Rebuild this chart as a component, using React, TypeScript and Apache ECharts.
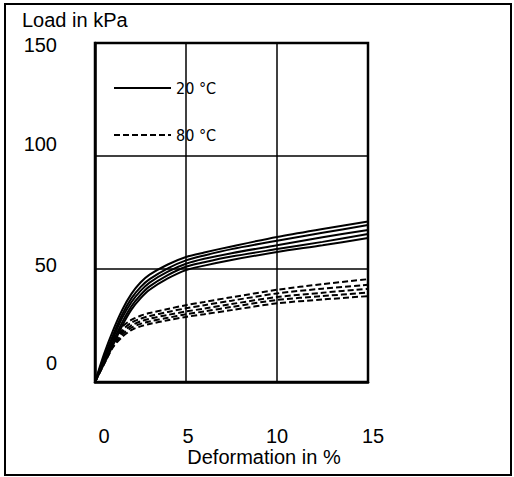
import React, { useEffect, useRef } from "react";
import * as echarts from "echarts";

const xTicks = [0, 5, 10, 15];
const yTicks = [0, 50, 100, 150];
const legendNames = ["20 °C", "80 °C"];
const xTitle = "Deformation in %";
const yTitle = "Load in kPa";

// deformation values (%) at which the curves were read
const deform = [0, 0.5, 1, 1.5, 2, 2.5, 3, 4, 5, 6, 7.5, 10, 12.5, 15];

// 20 °C curves (solid), load in kPa
const solid1 = [0, 12.5, 23, 32, 39, 44, 47.5, 52, 55.3, 57.3, 60, 64.2, 67.7, 71];
const solid2 = [0, 11, 21, 30, 37, 42, 45.5, 50.3, 53.8, 56, 58.8, 62.5, 66, 69.5];
const solid3 = [0, 10, 19.5, 28.5, 35.3, 40.3, 44, 48.8, 52.3, 54.5, 57, 60.5, 64, 67.3];
const solid4 = [0, 9, 18, 26.5, 33.5, 38.5, 42.3, 47.3, 51, 53, 55.5, 58.8, 62, 65.5];
const solid5 = [0, 8, 16.5, 25, 32, 37, 40.8, 45.8, 49.5, 51.5, 54, 57.5, 60.5, 63.7];

// 80 °C curves (dashed), load in kPa
const dashed1 = [0, 10, 19, 24.5, 27.5, 29.3, 30.5, 32.3, 34, 35.4, 37.5, 40.8, 43.3, 45.5];
const dashed2 = [0, 9.5, 18, 23, 26.2, 28, 29.2, 31, 32.6, 34, 36, 39.2, 41.3, 43];
const dashed3 = [0, 9, 17, 22, 25, 26.8, 28, 29.7, 31.2, 32.5, 34.5, 37.6, 39.5, 41.2];
const dashed4 = [0, 8.5, 16, 21, 24, 25.7, 26.8, 28.4, 30, 31.2, 33.2, 36.3, 38, 39.6];
const dashed5 = [0, 8, 15.5, 20, 23, 24.6, 25.7, 27.3, 28.8, 30, 31.8, 34.8, 36.5, 38];

const solidSets = [solid1, solid2, solid3, solid4, solid5];
const dashedSets = [dashed1, dashed2, dashed3, dashed4, dashed5];

const FONT = "Liberation Sans, Arial, sans-serif";

export default function App() {
  const ref = useRef<HTMLDivElement>(null);

  useEffect(() => {
    document.body.style.margin = "0";
    if (!ref.current) return;
    const chart = echarts.init(ref.current, undefined, { renderer: "svg" });

    const base = { fontSize: 20, fontFamily: FONT, color: "#000" };
    const yRich: Record<string, any> = {
      y150: { ...base, padding: [4, 0, 0, 0] },
      y100: { ...base, padding: [0, 0, 25, 0] },
      y50: { ...base, padding: [0, 0, 8, 0] },
      y0: { ...base, padding: [0, 0, 38, 0] },
    };
    const xRich: Record<string, any> = {
      x0: { ...base, padding: [0, 0, 0, 18] },
      x5: { ...base, padding: [0, 0, 0, 4] },
      x10: { ...base, padding: [0, 0, 0, 0] },
      x15: { ...base, padding: [0, 0, 0, 10] },
    };

    const pair = (ys: number[]) => ys.map((y, i) => [deform[i], y]);

    const series: any[] = [];
    solidSets.forEach((d) =>
      series.push({
        name: legendNames[0],
        type: "line",
        data: pair(d),
        symbol: "none",
        smooth: 0.3,
        lineStyle: { color: "#000", width: 2, type: "solid" },
        itemStyle: { color: "#000" },
      })
    );
    dashedSets.forEach((d) =>
      series.push({
        name: legendNames[1],
        type: "line",
        data: pair(d),
        symbol: "none",
        smooth: 0.3,
        lineStyle: { color: "#000", width: 2, type: [6, 3] },
        itemStyle: { color: "#000" },
      })
    );

    chart.setOption({
      animation: false,
      backgroundColor: "#fff",
      grid: {
        left: 95,
        top: 43,
        width: 273,
        height: 339,
        show: true,
        borderColor: "#000",
        borderWidth: 2.5,
        backgroundColor: "transparent",
      },
      legend: {
        data: legendNames,
        orient: "vertical",
        left: 113,
        top: 80,
        padding: 0,
        itemWidth: 57,
        itemHeight: 16,
        itemGap: 31,
        itemStyle: { color: "transparent", borderWidth: 0, opacity: 0 },
        textStyle: {
          fontFamily: "DejaVu Sans Condensed, sans-serif",
          fontSize: 16,
          color: "#000",
        },
      },
      xAxis: {
        type: "value",
        min: xTicks[0],
        max: xTicks[xTicks.length - 1],
        interval: 5,
        axisLine: { show: true, lineStyle: { color: "#000", width: 2.5 } },
        axisTick: { show: false },
        splitLine: { show: true, lineStyle: { color: "#000", width: 1.5 } },
        axisLabel: {
          margin: 44,
          showMinLabel: true,
          showMaxLabel: true,
          formatter: (v: number) => `{x${v}|${v}}`,
          rich: xRich,
        },
      },
      yAxis: {
        type: "value",
        min: yTicks[0],
        max: yTicks[yTicks.length - 1],
        interval: 50,
        axisLine: { show: true, lineStyle: { color: "#000", width: 2.5 } },
        axisTick: { show: false },
        splitLine: { show: true, lineStyle: { color: "#000", width: 1.5 } },
        axisLabel: {
          margin: 38,
          showMinLabel: true,
          showMaxLabel: true,
          formatter: (v: number) => `{y${v}|${v}}`,
          rich: yRich,
        },
      },
      graphic: [
        {
          type: "rect",
          shape: { x: 5, y: 4, width: 506, height: 471 },
          style: { fill: "none", stroke: "#000", lineWidth: 2 },
          silent: true,
        },
        {
          type: "text",
          x: 22,
          y: 20,
          style: {
            text: yTitle,
            fontSize: 20,
            fontFamily: FONT,
            fill: "#000",
            verticalAlign: "middle",
            align: "left",
          },
        },
        {
          type: "text",
          x: 264,
          y: 457,
          style: {
            text: xTitle,
            fontSize: 20,
            fontFamily: FONT,
            fill: "#000",
            verticalAlign: "middle",
            align: "center",
          },
        },
      ],
      series,
    });

    return () => chart.dispose();
  }, []);

  return <div ref={ref} style={{ width: 514, height: 477 }} />;
}
